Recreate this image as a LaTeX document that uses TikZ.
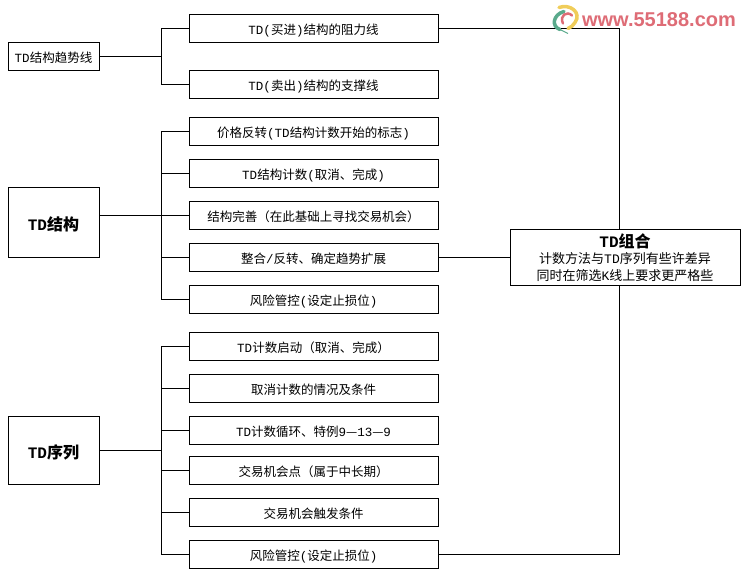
\documentclass[tikz,border=0pt]{standalone}
\usepackage{fontspec}
\setmainfont{Noto Sans CJK SC}
\newfontfamily\latinfont{Liberation Mono}
\newcommand{\lat}[1]{{\latinfont #1}}
\usetikzlibrary{calc,positioning}
\definecolor{markred}{RGB}{222,108,118}
\definecolor{markyellow}{RGB}{240,205,90}
\definecolor{markgreen}{RGB}{90,170,140}
\tikzset{
  itembox/.style={
    rectangle,
    draw=black,
    line width=1pt,
    minimum width=249pt,
    minimum height=28pt,
    inner sep=0pt,
    text height=12pt,
    text depth=0pt,
    font=\fontsize{12.5}{14}\selectfont},
  headbox/.style={
    rectangle,
    draw=black,
    line width=1pt,
    minimum width=91pt,
    inner sep=0pt,
    text height=16pt,
    text depth=0pt,
    font=\fontsize{16}{18}\selectfont\bfseries},
  combobox/.style={
    rectangle,
    draw=black,
    line width=1pt,
    minimum width=230pt,
    minimum height=56pt,
    inner sep=0pt,
    align=center,
    font=\fontsize{13}{16.5}\selectfont},
  link/.style={draw=black, line width=1pt},
}

\begin{document}
\begin{tikzpicture}[x=1pt,y=-1pt]
  \useasboundingbox (0,-0.5) rectangle (748,579.5);
  % left column
  \node[headbox,minimum height=28pt,text height=12pt,font=\fontsize{12.5}{14}\selectfont] (trend) at (53.5,56) {\lat{TD}结构趋势线};
  \node[headbox,minimum height=70pt] (struct) at (53.5,222) {\lat{TD}结构};
  \node[headbox,minimum height=68pt] (series) at (53.5,450) {\lat{TD}序列};
  % middle column
  \node[itembox] (resist) at (313.5,28) {\lat{TD(}买进\lat{)}结构的阻力线};
  \node[itembox] (support) at (313.5,84) {\lat{TD(}卖出\lat{)}结构的支撑线};
  \node[itembox] (reverse) at (313.5,131) {价格反转\lat{(TD}结构计数开始的标志\lat{)}};
  \node[itembox] (count) at (313.5,173) {\lat{TD}结构计数\lat{(}取消、完成\lat{)}};
  \node[itembox] (perfect) at (313.5,215) {结构完善（在此基础上寻找交易机会）};
  \node[itembox] (merge) at (313.5,257) {整合\lat{/}反转、确定趋势扩展};
  \node[itembox] (riska) at (313.5,299) {风险管控\lat{(}设定止损位\lat{)}};
  \node[itembox] (start) at (313.5,346) {\lat{TD}计数启动（取消、完成）};
  \node[itembox] (cancel) at (313.5,388) {取消计数的情况及条件};
  \node[itembox] (cycle) at (313.5,430) {\lat{TD}计数循环、特例\lat{9}—\lat{13}—\lat{9}};
  \node[itembox] (chance) at (313.5,470) {交易机会点（属于中长期）};
  \node[itembox] (trigger) at (313.5,512) {交易机会触发条件};
  \node[itembox] (riskb) at (313.5,554) {风险管控\lat{(}设定止损位\lat{)}};
  % right box
  \node[combobox] (combo) at (625,257)
    {{\fontsize{16}{17}\selectfont\bfseries \lat{TD}组合}\\
     计数方法与\lat{TD}序列有些许差异\\
     同时在筛选\lat{K}线上要求更严格些};
  % buses
  \coordinate (trendbus) at (161,56);
  \coordinate (structbus) at (161,215);
  \coordinate (seriesbus) at (161,450);
  \coordinate (rightbus) at (619,28);
  \draw[link] (trend.east) -- (trendbus);
  \draw[link] (resist.west) -| (trendbus);
  \draw[link] (support.west) -| (trendbus);
  \draw[link] (struct.east |- perfect) -- (perfect.west);
  \draw[link] (reverse.west) -| (structbus);
  \draw[link] (count.west) -| (structbus);
  \draw[link] (merge.west) -| (structbus);
  \draw[link] (riska.west) -| (structbus);
  \draw[link] (series.east) -- (seriesbus);
  \draw[link] (start.west) -| (seriesbus);
  \draw[link] (cancel.west) -| (seriesbus);
  \draw[link] (cycle.west) -| (seriesbus);
  \draw[link] (chance.west) -| (seriesbus);
  \draw[link] (trigger.west) -| (seriesbus);
  \draw[link] (riskb.west) -| (seriesbus);
  \draw[link] (resist.east) -- (rightbus) -- (rightbus |- combo.north);
  \draw[link] (merge.east) -- (combo.west);
  \draw[link] (riskb.east) -| (rightbus |- combo.south);
  % watermark
  \node[text=markred,inner sep=0pt,font=\fontsize{20}{22}\selectfont\bfseries\fontspec{Liberation Sans}] (mark) at (659,19) {www.55188.com};
  \draw[line width=3.5pt,line cap=round,draw=markyellow] (559,7) .. controls (570,3) and (582,12) .. (575,22) .. controls (573,25) and (571,27) .. (568,28);
  \draw[line width=3.5pt,line cap=round,draw=markgreen] (564,11) .. controls (553,14) and (551,26) .. (560,29);
  \draw[line width=1pt,draw=markgreen] (560,29) -- (568,33);
  \draw[line width=2.5pt,line cap=round,draw=markred] (563,23) .. controls (559,15) and (567,10) .. (572,15);
\end{tikzpicture}
\end{document}
